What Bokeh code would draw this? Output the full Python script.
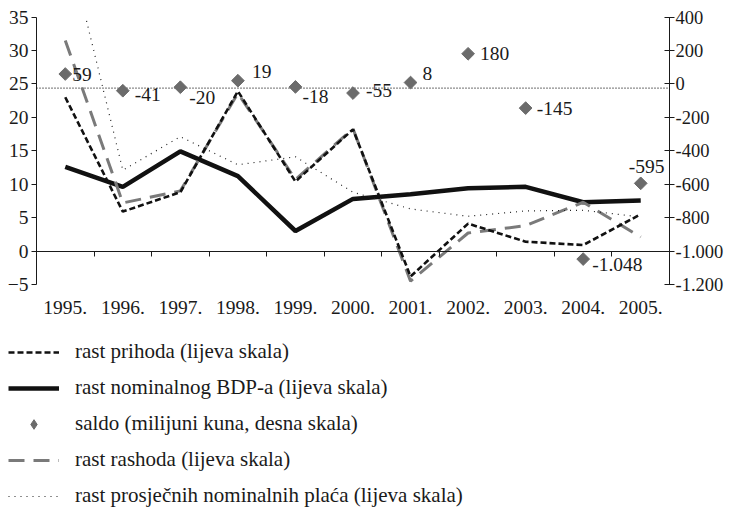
import math
from bokeh.plotting import figure
from bokeh.models import (Range1d, LinearAxis, FixedTicker, Legend, LegendItem,
                          ColumnDataSource, BoxAnnotation)
from bokeh.core.properties import value
from bokeh.embed import file_html
from bokeh.resources import INLINE

# ---------------- data ----------------
years = ["1995.", "1996.", "1997.", "1998.", "1999.", "2000.",
         "2001.", "2002.", "2003.", "2004.", "2005."]
rast_prihoda = [23.0, 5.9, 8.8, 23.9, 10.4, 18.2, -3.8, 4.1, 1.4, 0.9, 5.5]
rast_bdp = [12.6, 9.6, 14.9, 11.2, 3.0, 7.8, 8.5, 9.4, 9.6, 7.3, 7.55]
saldo = [59, -41, -20, 19, -18, -55, 8, 180, -145, -1048, -595]
rast_rashoda = [31.5, 7.2, 9.0, 23.6, 10.7, 18.3, -4.5, 2.7, 3.8, 7.3, 2.1]
rast_placa = [47.5, 12.1, 17.1, 12.9, 14.1, 8.8, 6.3, 5.2, 6.0, 6.1, 5.1]
left_ticks = [-5, 0, 5, 10, 15, 20, 25, 30, 35]
right_ticks = [-1200, -1000, -800, -600, -400, -200, 0, 200, 400]
saldo_ref = -25

legend_labels = ["rast prihoda (lijeva skala)",
                 "rast nominalnog BDP-a (lijeva skala)",
                 "saldo (milijuni kuna, desna skala)",
                 "rast rashoda (lijeva skala)",
                 "rast prosječnih nominalnih plaća (lijeva skala)"]

# label placement (style, screen px)
label_dx = [7, 12, 9, 14, 7, 13, 12, 12, 11, 9, -12]
label_dy = [0, 4, 10, -9, 10, -3, -9, 0, 0, 5, -17]

FONT = "Liberation Serif"
FS = "19.5px"
INK = "#1a1a1a"

ST_PRI = dict(line_color="#111111", line_width=2.6, line_dash="6 3")
ST_BDP = dict(line_color="#111111", line_width=4.5)
ST_RAS = dict(line_color="#7a7a7a", line_width=3, line_dash="16 9")
ST_PLA = dict(line_color="#222222", line_width=1.2, line_dash="1 5")
SAL_COLOR = "#6b6b6b"


def fmt(v):
    s = f"{abs(v):,}".replace(",", ".")
    return ("-" if v < 0 else "") + s


idx = list(range(len(years)))
boundaries = [i + 0.5 for i in idx[:-1]]
x_lo, x_hi = idx[0] - 0.5, idx[-1] + 0.5
y_lo, y_hi = left_ticks[0], left_ticks[-1]
r_lo, r_hi = right_ticks[0], right_ticks[-1]

# ---------------- layout (pixels of the plotting box inside the canvas) ----
W, H = 730, 508
PX_L, PX_R = 36, 669      # left / right edge of the plot box
PY_T, PY_B = 16.5, 284    # top / bottom edge of the plot box
ppx = (PX_R - PX_L) / (x_hi - x_lo)
ppy = (PY_B - PY_T) / (y_hi - y_lo)
x_start, x_end = x_lo - PX_L / ppx, x_hi + (W - PX_R) / ppx
y_start, y_end = y_lo - (H - PY_B) / ppy, y_hi + PY_T / ppy


def to_right(v):
    return r_lo + (v - y_lo) * (r_hi - r_lo) / (y_hi - y_lo)


p = figure(width=W, height=H, output_backend="svg", toolbar_location=None,
           x_range=Range1d(x_start, x_end), y_range=Range1d(y_start, y_end),
           x_axis_location=None, y_axis_location=None,
           min_border_left=0, min_border_right=0, min_border_top=0,
           min_border_bottom=0)
p.extra_y_ranges = {"right": Range1d(to_right(y_start), to_right(y_end))}
p.extra_x_ranges = {"off": Range1d(x_start + 1000, x_end + 1000)}
p.grid.visible = False
p.outline_line_color = None

# year labels (below the -5 line)
xa = LinearAxis(fixed_location=y_lo, ticker=FixedTicker(ticks=idx),
                major_label_overrides={i: y for i, y in zip(idx, years)},
                axis_line_color=None, major_tick_line_color=None,
                minor_tick_line_color=None, major_label_standoff=10,
                major_label_text_font=FONT, major_label_text_font_size=FS,
                major_label_text_color=INK)
p.add_layout(xa, "below")

# zero axis with ticks between years
za = LinearAxis(fixed_location=0, bounds=(x_lo, x_hi),
                ticker=FixedTicker(ticks=boundaries),
                major_label_overrides={b: "" for b in boundaries},
                major_tick_in=0, major_tick_out=5, axis_line_color=INK,
                major_tick_line_color=INK, minor_tick_line_color=None,
                major_label_standoff=0)
p.add_layout(za, "below")

# left axis
ya = LinearAxis(fixed_location=x_lo, bounds=(y_lo, y_hi),
                ticker=FixedTicker(ticks=left_ticks),
                minor_tick_line_color=None, major_tick_in=0, major_tick_out=5,
                major_label_standoff=3, major_label_text_font=FONT,
                major_label_text_font_size=FS, major_label_text_color=INK,
                axis_line_color=INK, major_tick_line_color=INK)
p.add_layout(ya, "left")

# right axis
ra = LinearAxis(y_range_name="right", fixed_location=x_hi, bounds=(r_lo, r_hi),
                ticker=FixedTicker(ticks=right_ticks),
                major_label_overrides={t: fmt(t) for t in right_ticks},
                minor_tick_line_color=None, major_tick_in=5, major_tick_out=5,
                major_label_standoff=1, major_label_text_font=FONT,
                major_label_text_font_size="18.5px", major_label_text_color=INK,
                axis_line_color=INK, major_tick_line_color=INK)
p.add_layout(ra, "right")

src = ColumnDataSource(dict(x=idx, prihoda=rast_prihoda, bdp=rast_bdp,
                            saldo=saldo, rashoda=rast_rashoda, placa=rast_placa,
                            lab=[fmt(v) for v in saldo], dx=label_dx, dy=label_dy))

# dotted reference line between the two axes
p.segment(x0=[x_lo], x1=[x_hi], y0=[saldo_ref], y1=[saldo_ref],
          y_range_name="right", line_color=INK, line_width=1.3, line_dash="1 2")

r_bdp = p.line("x", "bdp", source=src, **ST_BDP)
r_ras = p.line("x", "rashoda", source=src, **ST_RAS)
r_pri = p.line("x", "prihoda", source=src, **ST_PRI)
r_pla = p.line("x", "placa", source=src, **ST_PLA)

# keep series inside the value range (mask above the top of the scale)
p.add_layout(BoxAnnotation(bottom=y_hi, fill_color="white", fill_alpha=1.0,
                           line_color=None, level="glyph"))

p.scatter("x", "saldo", source=src, y_range_name="right", marker="square",
          angle=math.pi / 4, size=9, fill_color=SAL_COLOR, line_color=SAL_COLOR)
p.text("x", "saldo", text="lab", source=src, y_range_name="right",
       x_offset="dx", y_offset="dy", text_font=value(FONT),
       text_font_size=FS, text_baseline="middle", text_align="left",
       text_color=INK)

# legend swatch for the saldo series (same data, on an off-screen x range)
l_sal = p.scatter("x", "saldo", source=src, x_range_name="off",
                  y_range_name="right", marker="diamond",
                  fill_color=SAL_COLOR, line_color=SAL_COLOR)

legend = Legend(items=[LegendItem(label=legend_labels[0], renderers=[r_pri]),
                       LegendItem(label=legend_labels[1], renderers=[r_bdp]),
                       LegendItem(label=legend_labels[2], renderers=[l_sal]),
                       LegendItem(label=legend_labels[3], renderers=[r_ras]),
                       LegendItem(label=legend_labels[4], renderers=[r_pla])],
                location=(8, 0), orientation="vertical",
                glyph_width=51, glyph_height=24, label_height=22,
                label_standoff=16, spacing=11, padding=0, margin=0,
                border_line_color=None, background_fill_alpha=0,
                label_text_font=FONT, label_text_font_size="21px",
                label_text_color=INK)
p.add_layout(legend, "center")

open("out.html", "w").write(file_html(p, INLINE))
